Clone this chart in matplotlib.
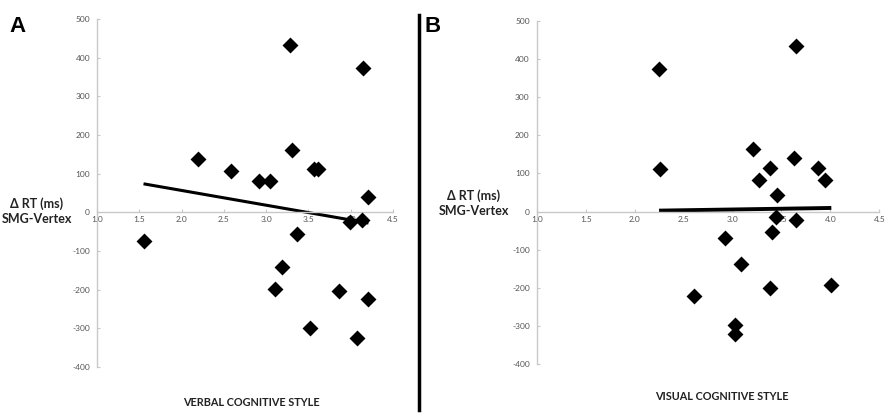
import matplotlib
matplotlib.use("Agg")
import matplotlib.pyplot as plt
import numpy as np

# Delta RT (ms) SMG - Vertex, same subjects in both panels
verbal_x = [3.28, 4.15, 2.20, 2.58, 2.91, 3.05, 3.31, 3.56, 3.61, 4.21,
            1.55, 3.37, 3.19, 3.11, 3.86, 4.20, 3.52, 4.08, 3.99, 4.13]
verbal_y = [432, 373, 138, 108, 80, 80, 160, 113, 113, 39,
            -75, -56, -142, -198, -204, -224, -300, -324, -25, -19]

visual_x = [2.25, 2.26, 3.65, 3.21, 3.27, 3.38, 3.46, 3.63, 3.87, 3.95,
            3.44, 3.65, 3.40, 2.92, 3.09, 3.38, 4.01, 2.61, 3.03, 3.03]
visual_y = [373, 111, 434, 163, 82, 115, 43, 140, 114, 84,
            -15, -22, -53, -70, -138, -200, -193, -220, -296, -320]

x_ticks = [1.0, 1.5, 2.0, 2.5, 3.0, 3.5, 4.0, 4.5]
y_ticks = [-400, -300, -200, -100, 0, 100, 200, 300, 400, 500]
ylabel = "\u0394 RT (ms)\nSMG-Vertex"

plt.rcParams['font.family'] = ['Lato', 'DejaVu Sans']

fig = plt.figure(figsize=(8.92, 4.18), dpi=100)
W, H = 892, 418

def px_axes(l, t, r, b):
    return fig.add_axes([l / W, 1 - b / H, (r - l) / W, (b - t) / H])

axA = px_axes(97, 19, 393, 367)
axB = px_axes(536.7, 20.7, 879.3, 364.3)

grey = '#c8c8c8'
tickcol = '#555555'

def style(ax, xs, ys, lw):
    ax.scatter(xs, ys, marker='D', s=66, color='black', zorder=3, linewidths=0)
    coef = np.polyfit(xs, ys, 1)
    lx = np.array([min(xs), max(xs)])
    ax.plot(lx, np.polyval(coef, lx), color='black', lw=lw, zorder=2,
            solid_capstyle='butt')
    ax.set_xlim(1.0, 4.5)
    ax.set_ylim(-400, 500)
    for s in ['top', 'right']:
        ax.spines[s].set_visible(False)
    ax.spines['bottom'].set_position(('data', 0))
    ax.spines['left'].set_color(grey)
    ax.spines['bottom'].set_color(grey)
    ax.spines['left'].set_linewidth(1.0)
    ax.spines['bottom'].set_linewidth(1.0)
    ax.set_xticks(x_ticks)
    ax.set_xticklabels([f"{v:.1f}" for v in x_ticks])
    ax.set_yticks(y_ticks)
    ax.set_yticklabels([str(v) for v in y_ticks])
    ax.tick_params(axis='both', direction='in', length=2, color=grey,
                   labelsize=6, labelcolor=tickcol)
    ax.tick_params(axis='y', pad=5)
    ax.tick_params(axis='x', pad=3)
    ax.set_facecolor('none')

style(axA, verbal_x, verbal_y, 2.2)
style(axB, visual_x, visual_y, 2.8)

ylab = dict(fontsize=9, fontweight='bold', color='#222222', ha='center',
            va='center', linespacing=1.35)
xlab = dict(fontsize=7.8, fontweight='bold', color='#222222', ha='center',
            va='center')
fig.text(37 / W, 1 - 211 / H, ylabel, **ylab)
fig.text(474 / W, 1 - 203 / H, ylabel, **ylab)
fig.text(251 / W, 1 - 402 / H, "VERBAL COGNITIVE STYLE", **xlab)
fig.text(722 / W, 1 - 397 / H, "VISUAL COGNITIVE STYLE", **xlab)

fig.text(18 / W, 1 - 26 / H, "A", fontsize=16, fontweight='bold',
         family=['Liberation Sans', 'DejaVu Sans'], ha='center', va='center')
fig.text(433 / W, 1 - 26 / H, "B", fontsize=16, fontweight='bold',
         family=['Liberation Sans', 'DejaVu Sans'], ha='center', va='center')

fig.add_artist(plt.Line2D([419 / W, 419 / W], [1 - 15 / H, 1 - 410 / H],
                          color='black', lw=2.5, transform=fig.transFigure))

fig.savefig("out.png", dpi=100, facecolor='white')
